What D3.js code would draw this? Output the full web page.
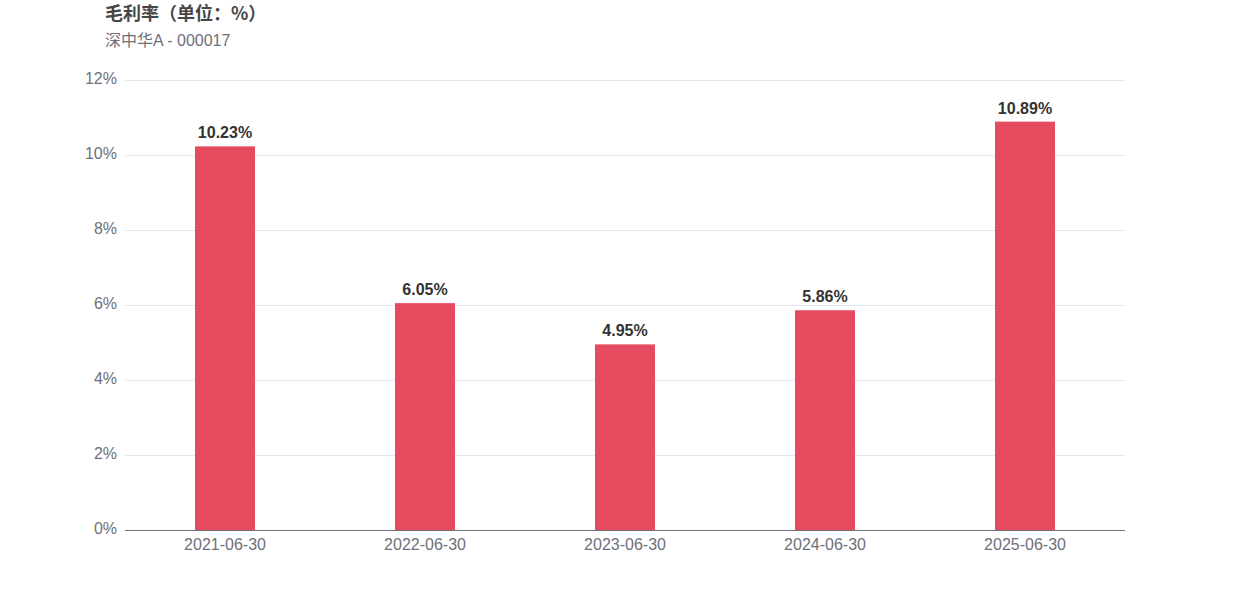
<!DOCTYPE html>
<html><head><meta charset="utf-8">
<script src="https://cdn.jsdelivr.net/npm/d3@7"></script>
<style>body{margin:0;background:#fff;font-family:"Liberation Sans",Arial,"Noto Sans CJK SC",sans-serif;}</style>
</head><body>
<svg id="c" width="1250" height="600"></svg>
<script>
const categories = ["2021-06-30","2022-06-30","2023-06-30","2024-06-30","2025-06-30"];
const values = [10.23, 6.05, 4.95, 5.86, 10.89];
const yTicks = [0,2,4,6,8,10,12];
const title = "毛利率（单位：%）";
const subtitle = "深中华A - 000017";

const svg = d3.select("#c");
const m = {l:125, r:1125, t:80, b:530};
const x = d3.scaleBand().domain(categories).range([m.l, m.r]);
const y = d3.scaleLinear().domain([0,12]).range([m.b, m.t]);
const font = '"Liberation Sans",Arial,"Noto Sans CJK SC",sans-serif';

svg.append("g").selectAll("line").data(yTicks.filter(d=>d>0)).join("line")
  .attr("x1", m.l).attr("x2", m.r).attr("y1", d=>y(d)).attr("y2", d=>y(d))
  .attr("stroke", "#e0e6f1").attr("stroke-width", 1).attr("shape-rendering","crispEdges");

svg.append("g").selectAll("text").data(yTicks).join("text")
  .attr("x", m.l-8).attr("y", d=>y(d)).attr("dy","0.25em").attr("text-anchor","end")
  .attr("font-size",16).attr("font-family",font).attr("fill","#6e7079").text(d=>d+"%");

const bw = 60;
svg.append("g").selectAll("rect").data(values).join("rect")
  .attr("x", (d,i)=>x(categories[i])+x.bandwidth()/2-bw/2).attr("width", bw)
  .attr("y", d=>y(d)).attr("height", d=>y(0)-y(d)).attr("fill","#e54b5f");

svg.append("g").selectAll("text").data(values).join("text")
  .attr("x", (d,i)=>x(categories[i])+x.bandwidth()/2).attr("y", d=>y(d)-8)
  .attr("text-anchor","middle").attr("font-size",16).attr("font-weight","bold")
  .attr("font-family",font).attr("fill","#333").text(d=>d.toFixed(2)+"%");

svg.append("line").attr("x1",m.l).attr("x2",m.r).attr("y1",y(0)).attr("y2",y(0))
  .attr("stroke","#6e7079").attr("stroke-width",1).attr("shape-rendering","crispEdges");

svg.append("g").selectAll("text").data(categories).join("text")
  .attr("x", d=>x(d)+x.bandwidth()/2).attr("y", y(0)+20).attr("text-anchor","middle")
  .attr("font-size",16).attr("font-family",font).attr("fill","#6e7079").text(d=>d);

svg.append("text").attr("x",105).attr("y",20).attr("font-size",18).attr("font-weight","bold")
  .attr("font-family",'"Noto Sans CJK SC","Liberation Sans",sans-serif').attr("fill","#464646").text(title);
svg.append("text").attr("x",105).attr("y",46).attr("font-size",16)
  .attr("font-family",font).attr("fill","#6e7079").text(subtitle);
</script>
</body></html>
